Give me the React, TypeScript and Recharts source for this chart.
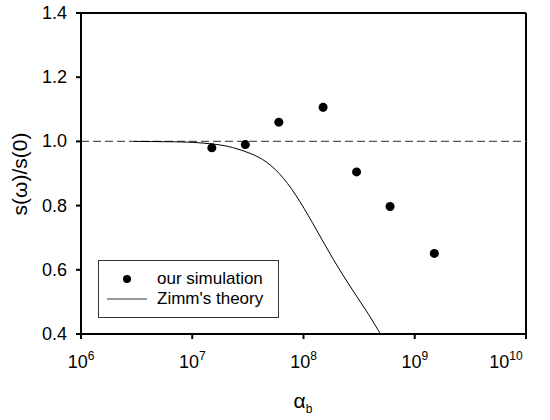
import React from 'react';
import { ComposedChart, Scatter, Line, XAxis, YAxis, ReferenceLine, Label } from 'recharts';

// simulation points
const simAlpha = [1.5e7, 3e7, 6e7, 1.5e8, 3e8, 6e8, 1.5e9];
const simRatio = [0.98, 0.99, 1.06, 1.106, 0.905, 0.797, 0.651];

// Zimm's theory curve
const zimmAlpha = [3e6, 6e6, 1e7, 1.6e7, 2.3e7, 3.3e7, 4.67e7, 6.6e7, 9.3e7, 1.31e8, 1.85e8, 2.62e8, 3.7e8, 4.88e8, 5.1e8];
const zimmRatio = [1.0, 0.999, 0.997, 0.991, 0.981, 0.963, 0.935, 0.885, 0.812, 0.724, 0.633, 0.549, 0.47, 0.402, 0.39];

const xTicks = [1e6, 1e7, 1e8, 1e9, 1e10];
const yTicks = [0.4, 0.6, 0.8, 1.0, 1.2, 1.4];

const simData = simAlpha.map((alpha, i) => ({ alpha, ratio: simRatio[i] }));
const zimmData = zimmAlpha.map((alpha, i) => ({ alpha, ratio: zimmRatio[i] }));

const FONT = '"Liberation Sans", Arial, sans-serif';

const XTick = ({ x, y, payload }: any) => {
  const exp = Math.round(Math.log10(payload.value));
  return (
    <text x={x} y={y} textAnchor="middle" fontSize={18} fill="#000" fontFamily={FONT}>
      <tspan dy={29}>10</tspan>
      <tspan dy={-8} fontSize={12}>{exp}</tspan>
    </text>
  );
};

const YTick = ({ x, y, payload }: any) => (
  <text x={x} y={y} textAnchor="end" dominantBaseline="central" fontSize={18} fill="#000" fontFamily={FONT}>
    {payload.value.toFixed(1)}
  </text>
);

const XLabel = () => (
  <text x={303} y={408} textAnchor="middle" fontSize={21} fill="#000" fontFamily={FONT}>
    α<tspan dy={5} fontSize={12}>b</tspan>
  </text>
);

const YLabel = () => (
  <text
    x={19}
    y={174}
    transform="rotate(-90 19 174)"
    textAnchor="middle"
    dominantBaseline="central"
    fontSize={21}
    fill="#000"
    fontFamily={FONT}
  >
    s(ω)/s(0)
  </text>
);

const LegendBox = () => (
  <div
    style={{
      position: 'absolute',
      left: 98,
      top: 260,
      width: 181,
      height: 58,
      boxSizing: 'border-box',
      border: '1px solid #333',
      background: '#fff',
      fontFamily: FONT,
      fontSize: 17,
      color: '#000',
      padding: '8px 0 0 0',
    }}
  >
    <div style={{ display: 'flex', alignItems: 'center', height: 20 }}>
      <svg width={58} height={20}>
        <circle cx={28} cy={10} r={4} fill="#000" />
      </svg>
      <span>our simulation</span>
    </div>
    <div style={{ display: 'flex', alignItems: 'center', height: 20 }}>
      <svg width={58} height={20}>
        <line x1={8} y1={10} x2={48} y2={10} stroke="#333" strokeWidth={1} />
      </svg>
      <span>Zimm's theory</span>
    </div>
  </div>
);

export default function App() {
  return (
    <div style={{ position: 'absolute', left: 0, top: 0, width: 550, height: 420, background: '#fff' }}>
      <ComposedChart width={550} height={420} margin={{ top: 13, right: 24, left: 0, bottom: 0 }}>
        <XAxis
          dataKey="alpha"
          type="number"
          scale="log"
          domain={[1e6, 1e10]}
          ticks={xTicks}
          allowDataOverflow
          height={86}
          tickSize={5}
          tickMargin={0}
          tick={<XTick />}
          axisLine={{ stroke: '#000', strokeWidth: 2 }}
          tickLine={{ stroke: '#000', strokeWidth: 2 }}
        >
          <Label content={<XLabel />} />
        </XAxis>
        <YAxis
          dataKey="ratio"
          type="number"
          domain={[0.4, 1.4]}
          ticks={yTicks}
          allowDataOverflow
          width={81}
          tickSize={5}
          tickMargin={9}
          tick={<YTick />}
          axisLine={{ stroke: '#000', strokeWidth: 2 }}
          tickLine={{ stroke: '#000', strokeWidth: 2 }}
        >
          <Label content={<YLabel />} />
        </YAxis>
        <ReferenceLine y={1.4} stroke="#000" strokeWidth={2} />
        <ReferenceLine x={1e10} stroke="#000" strokeWidth={2} />
        <ReferenceLine y={1.0} stroke="#555" strokeWidth={1.3} strokeDasharray="8 4" />
        <Line
          data={zimmData}
          dataKey="ratio"
          type="natural"
          stroke="#000"
          strokeWidth={1}
          dot={false}
          activeDot={false}
          isAnimationActive={false}
        />
        <Scatter data={simData} dataKey="ratio" fill="#000" shape="circle" isAnimationActive={false} />
      </ComposedChart>
      <LegendBox />
    </div>
  );
}
